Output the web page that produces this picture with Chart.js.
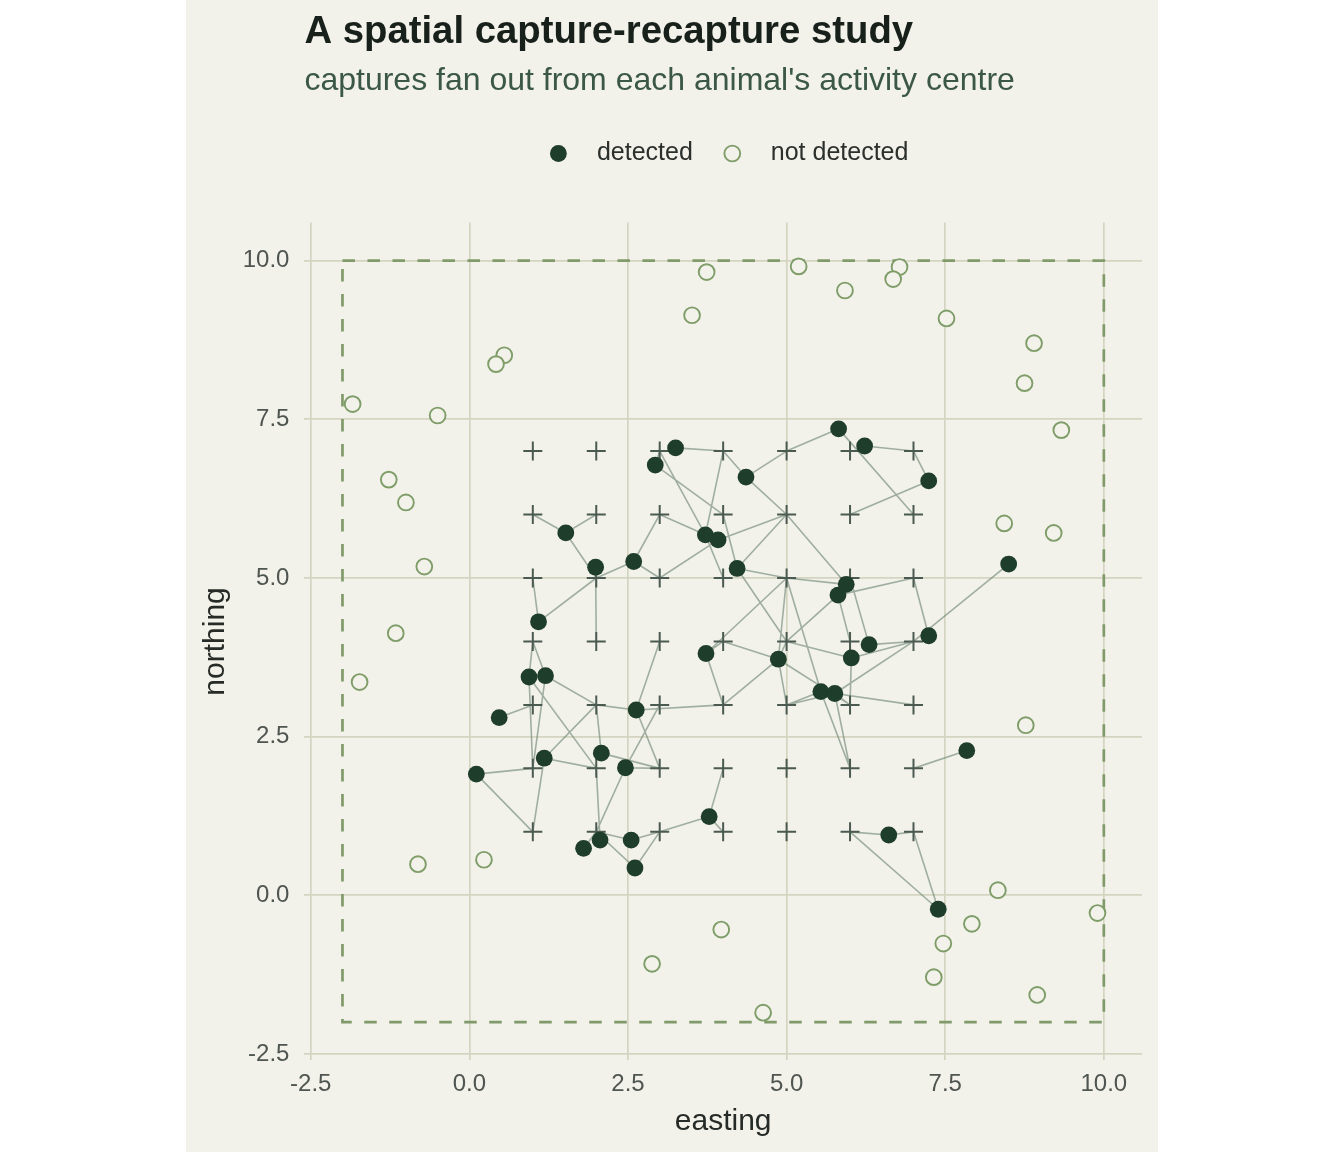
<!DOCTYPE html>
<html>
<head>
<meta charset="utf-8">
<title>A spatial capture-recapture study</title>
<script src="https://cdn.jsdelivr.net/npm/chart.js@4.4.1/dist/chart.umd.min.js"></script>
<style>
  body { margin: 0; background: #ffffff; }
  #panel { position: absolute; left: 186px; top: 0; width: 972px; height: 1152px; background: #f2f1ea; }
  canvas { display: block; }
</style>
</head>
<body>
<div id="panel"><canvas id="scr" width="972" height="1152"></canvas></div>
<script>
// Trap grid: a 7 x 7 array of detectors
const trapCols = [1, 2, 3, 4, 5, 6, 7];
const trapRows = [1, 2, 3, 4, 5, 6, 7];

// Activity centres of the animals that were detected
const detX = [0.11, 0.47, 0.94, 1.09, 1.18, 1.20, 1.52, 1.80, 1.99, 2.06, 2.08, 2.46, 2.55,
  2.59, 2.61, 2.63, 2.93, 3.25, 3.72, 3.73, 3.78, 3.92, 4.22, 4.36, 4.87, 5.54, 5.76, 5.81,
  5.82, 5.94, 6.02, 6.23, 6.30, 6.61, 7.24, 7.24, 7.39, 7.84, 8.50];
const detY = [1.91, 2.80, 3.44, 4.31, 2.16, 3.46, 5.71, 0.74, 5.17, 0.87, 2.24, 2.01, 0.87,
  5.26, 0.43, 2.92, 6.78, 7.05, 5.68, 3.81, 1.24, 5.60, 5.15, 6.59, 3.72, 3.21, 3.18, 4.73,
  7.35, 4.90, 3.74, 7.08, 3.95, 0.95, 6.53, 4.09, -0.22, 2.28, 5.22];

// Traps [col, row] where each detected animal was caught (same order as detX)
const detCaps = [
  [[1, 2], [1, 1]],
  [[1, 3]],
  [[1, 4], [2, 2], [1, 2]],
  [[1, 5], [2, 5]],
  [[1, 1], [2, 3], [2, 2]],
  [[1, 4], [2, 3], [1, 2]],
  [[1, 6], [2, 6], [2, 5]],
  [[2, 1]],
  [[2, 4]],
  [[2, 2]],
  [[2, 3], [3, 2]],
  [[3, 3], [3, 2], [2, 1]],
  [[2, 1], [3, 1]],
  [[3, 6], [3, 5], [2, 5]],
  [[2, 1], [3, 1]],
  [[2, 3], [4, 3], [3, 4], [3, 2]],
  [[3, 7], [4, 6]],
  [[4, 7]],
  [[3, 6], [3, 7], [4, 7], [4, 5]],
  [[4, 4], [4, 3], [5, 5]],
  [[3, 1], [4, 1], [4, 2]],
  [[3, 5], [5, 6]],
  [[4, 6], [5, 6], [5, 5], [5, 4]],
  [[4, 7], [5, 7], [5, 6]],
  [[4, 4], [5, 5], [4, 3], [5, 4], [5, 3], [6, 3]],
  [[5, 5], [5, 3], [6, 2]],
  [[5, 3], [6, 3], [6, 2], [7, 4], [7, 3]],
  [[5, 4], [6, 4], [7, 5]],
  [[5, 7], [7, 6]],
  [[5, 6], [5, 5]],
  [[5, 4], [6, 3], [7, 4]],
  [[7, 7]],
  [[6, 5], [7, 4]],
  [[6, 1], [7, 1]],
  [[7, 7], [6, 6]],
  [[7, 5]],
  [[6, 1], [7, 1]],
  [[7, 2]],
  [[7, 4]]
];

// Activity centres of animals never caught
const missX = [0.55, 0.42, -1.84, -0.50, -1.27, -1.00, 3.74, 3.51, 5.19, 5.92, 6.78, 6.68,
  7.52, 8.90, 8.75, 9.33, -0.71, -1.16, -1.73, 8.43, 9.21, 8.77, -0.81, 0.23, 3.97, 2.88,
  4.63, 8.33, 7.92, 7.47, 7.32, 8.95, 9.90];
const missY = [8.51, 8.37, 7.74, 7.56, 6.55, 6.19, 9.82, 9.14, 9.91, 9.53, 9.90, 9.71,
  9.09, 8.70, 8.07, 7.33, 5.18, 4.13, 3.36, 5.86, 5.71, 2.68, 0.49, 0.56, -0.54, -1.08,
  -1.85, 0.08, -0.45, -0.76, -1.29, -1.57, -0.28];

// State space boundary
const stateX = [-2, 10];
const stateY = [-2, 10];

const xTicks = [-2.5, 0, 2.5, 5, 7.5, 10];
const yTicks = [-2.5, 0, 2.5, 5, 7.5, 10];

const FONT = '"Liberation Sans", Arial, Helvetica, sans-serif';
const BG = '#f2f1ea';
const titleText = 'A spatial capture-recapture study';
const subtitleText = "captures fan out from each animal's activity centre";

// build chart data
const traps = [];
trapRows.forEach(r => trapCols.forEach(c => traps.push({ x: c, y: r })));

const links = [];
detCaps.forEach((caps, i) => {
  caps.forEach(([c, r]) => {
    links.push({ x: detX[i], y: detY[i] });
    links.push({ x: c, y: r });
    links.push({ x: NaN, y: NaN });
  });
});

const stateBox = [
  { x: stateX[0], y: stateY[1] },
  { x: stateX[1], y: stateY[1] },
  { x: stateX[1], y: stateY[0] },
  { x: stateX[0], y: stateY[0] },
  { x: stateX[0], y: stateY[1] }
];

const detected = detX.map((x, i) => ({ x, y: detY[i] }));
const missed = missX.map((x, i) => ({ x, y: missY[i] }));

const headerPlugin = {
  id: 'header',
  afterDraw(chart) {
    const { ctx, chartArea } = chart;
    const left = chartArea.left;
    ctx.save();
    ctx.textAlign = 'left';
    ctx.textBaseline = 'alphabetic';
    ctx.fillStyle = '#17201a';
    ctx.font = 'bold 38.3px ' + FONT;
    ctx.fillText(titleText, left, 43);
    ctx.fillStyle = '#3b5845';
    ctx.font = '32px ' + FONT;
    ctx.fillText(subtitleText, left, 90);

    // legend: filled and open point keys
    const items = chart.data.datasets.filter(d => d.inLegend);
    ctx.font = '25px ' + FONT;
    const keyGap = 38.5, itemGap = 39.5;
    let total = 0;
    items.forEach((d, i) => {
      total += keyGap + ctx.measureText(d.label).width + (i < items.length - 1 ? itemGap : 0);
    });
    let x = (chartArea.left + chartArea.right) / 2 + 6 - (total + 8.5) / 2 + 8.5;
    const y = 153.5;
    items.forEach(d => {
      ctx.beginPath();
      ctx.arc(x, y, d.pointRadius, 0, Math.PI * 2);
      ctx.fillStyle = d.backgroundColor;
      ctx.fill();
      if (d.borderWidth) {
        ctx.lineWidth = d.borderWidth;
        ctx.strokeStyle = d.borderColor;
        ctx.stroke();
      }
      ctx.fillStyle = '#2b302c';
      ctx.textBaseline = 'middle';
      ctx.fillText(d.label, x + keyGap, y);
      x += keyGap + ctx.measureText(d.label).width + itemGap;
    });
    ctx.restore();
  }
};

const axisOpts = (ticks, title, tickPad, titlePad) => ({
  type: 'linear',
  min: -2.6,
  max: 10.6,
  afterBuildTicks: s => { s.ticks = ticks.map(v => ({ value: v })); },
  grid: { color: '#d4d5c1', lineWidth: 1.7, drawTicks: false },
  border: { display: false },
  ticks: {
    padding: tickPad,
    color: '#4f5550',
    font: { family: FONT, size: 24 },
    callback: v => v.toFixed(1)
  },
  title: {
    display: true,
    text: title,
    color: '#262b27',
    font: { family: FONT, size: 30 },
    padding: titlePad
  }
});

const xAxis = axisOpts(xTicks, 'easting', 10, { top: 0, bottom: 12 });
xAxis.afterFit = s => { s.height = 91.7; };
const yAxis = axisOpts(yTicks, 'northing', 15, { top: 12, bottom: 0 });
yAxis.afterFit = s => { s.width = 118.4; };

new Chart(document.getElementById('scr'), {
  type: 'scatter',
  data: {
    datasets: [
      {
        label: 'detected',
        inLegend: true,
        data: detected,
        pointRadius: 8.4,
        backgroundColor: '#1e3d2a',
        borderWidth: 0,
        order: 1
      },
      {
        label: 'not detected',
        inLegend: true,
        data: missed,
        pointRadius: 7.9,
        backgroundColor: BG,
        borderColor: '#7f9d68',
        borderWidth: 1.9,
        order: 2
      },
      {
        label: 'traps',
        data: traps,
        pointStyle: 'cross',
        pointRadius: 9.5,
        borderColor: '#4b5a50',
        borderWidth: 2,
        order: 3
      },
      {
        label: 'captures',
        data: links,
        showLine: true,
        spanGaps: false,
        pointRadius: 0,
        borderColor: 'rgba(100, 126, 106, 0.58)',
        borderWidth: 1.6,
        order: 4
      },
      {
        label: 'state space',
        data: stateBox,
        showLine: true,
        pointRadius: 0,
        borderColor: '#809a6a',
        borderWidth: 2.7,
        borderDash: [12.5, 12.5],
        order: 5
      }
    ]
  },
  options: {
    responsive: false,
    animation: false,
    devicePixelRatio: 1,
    events: [],
    layout: { padding: { top: 222.6, right: 16.1, bottom: 0, left: 0 } },
    plugins: {
      legend: { display: false },
      tooltip: { enabled: false }
    },
    scales: { x: xAxis, y: yAxis }
  },
  plugins: [headerPlugin]
});
</script>
</body>
</html>
